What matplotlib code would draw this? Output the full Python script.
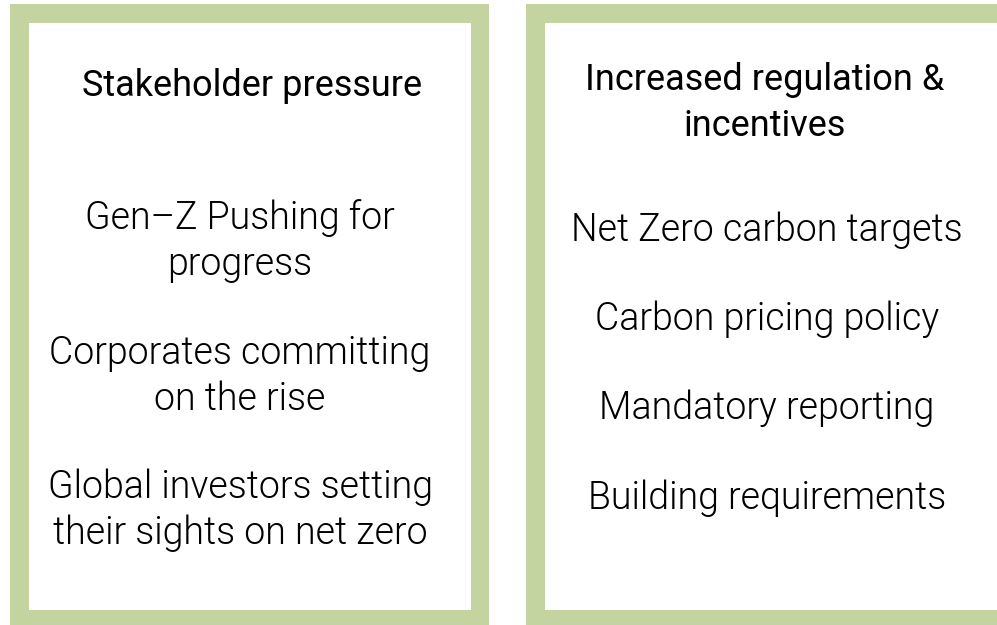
import matplotlib.pyplot as plt
from matplotlib.patches import Rectangle

green = '#c3d4a0'

left_title = 'Stakeholder pressure'
left_items = ['Gen\u2013Z Pushing for\nprogress',
              'Corporates committing\non the rise',
              'Global investors setting\ntheir sights on net zero']
right_title = 'Increased regulation &\nincentives'
right_items = ['Net Zero carbon targets',
               'Carbon pricing policy',
               'Mandatory reporting',
               'Building requirements']

fig = plt.figure(figsize=(9.97, 6.25), dpi=100)
ax = fig.add_axes([0, 0, 1, 1])
ax.set_xlim(0, 997)
ax.set_ylim(625, 0)
ax.axis('off')

# boxes: outer green frame, inner white panel
for x0, x1 in [(10, 489), (526, 1015)]:
    ax.add_patch(Rectangle((x0, 4), x1 - x0, 640, facecolor=green, edgecolor='none'))
    ax.add_patch(Rectangle((x0 + 18.5, 23), x1 - x0 - 37, 587, facecolor='white', edgecolor='none'))

font = 'Roboto'
ax.text(252, 86, left_title, ha='center', va='center', fontsize=26, family=font,
        fontweight=400)
for txt, y in zip(left_items, [241, 376, 510]):
    ax.text(240, y, txt, ha='center', va='center', fontsize=27, family=font,
            fontweight=300, linespacing=1.3)

ax.text(765, 103, right_title, ha='center', va='center', fontsize=26, family=font,
        fontweight=400, linespacing=1.35, multialignment='center')
for txt, y in zip(right_items, [230, 319, 408, 498]):
    ax.text(767, y, txt, ha='center', va='center', fontsize=27, family=font,
            fontweight=300)

fig.savefig('out.png', dpi=100)
